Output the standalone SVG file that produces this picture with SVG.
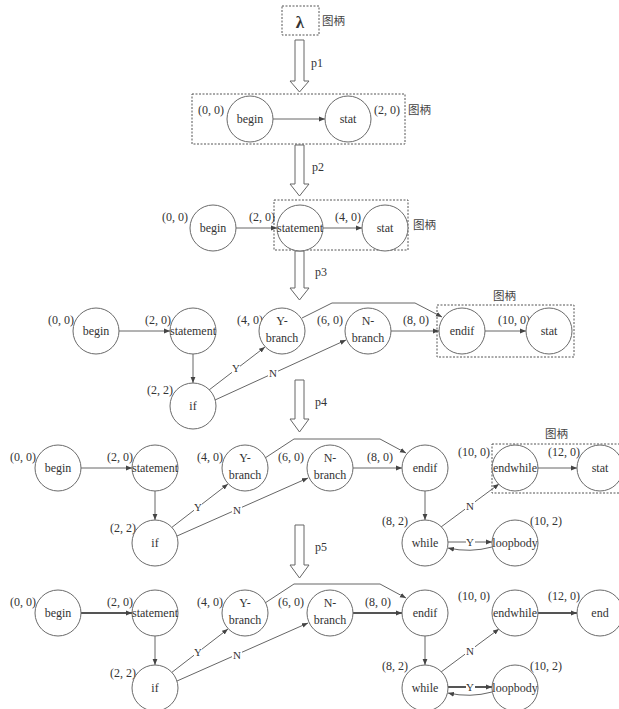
<svg xmlns="http://www.w3.org/2000/svg" width="619" height="709" viewBox="0 0 619 709">
<defs>
<style>
.n{fill:#fff;stroke:#6a6a6a;stroke-width:1}
.t{font-family:"Liberation Serif","Times New Roman",serif;font-size:12px;fill:#333;text-anchor:middle}
.c{font-family:"Liberation Serif","Times New Roman",serif;font-size:12px;fill:#333}
.h{font-family:"Noto Sans CJK SC","Noto Sans",sans-serif;font-size:11.5px;fill:#444}
.e{fill:none;stroke:#666;stroke-width:1;marker-end:url(#ah)}
.e2{fill:none;stroke:#555;stroke-width:1.8;marker-end:url(#ah)}
.b{fill:none;stroke:#555;stroke-width:1;stroke-dasharray:2 1.5}
.p{fill:#fff;stroke:#666;stroke-width:1}
.l{font-family:"Liberation Serif","Times New Roman",serif;font-size:11px;fill:#333;text-anchor:middle}
.lb{fill:#fff;stroke:none}
</style>
<marker id="ah" viewBox="0 0 10 10" refX="10" refY="5" markerWidth="6" markerHeight="6" markerUnits="userSpaceOnUse" orient="auto">
<path d="M0,1 L10,5 L0,9 Z" fill="#444"/>
</marker>
</defs>
<rect width="619" height="709" fill="#fff"/>

<!-- production arrows -->
<g id="prod">
<path class="p" d="M295,40 L304,40 L304,81 L309,81 L299.5,92 L290,81 L295,81 Z"/>
<text class="c" x="311" y="67">p1</text>
<path class="p" d="M295,145 L304,145 L304,184 L309,184 L299.5,196 L290,184 L295,184 Z"/>
<text class="c" x="312" y="171">p2</text>
<path class="p" d="M295,251 L304,251 L304,288 L309,288 L299.5,300 L290,288 L295,288 Z"/>
<text class="c" x="315" y="276">p3</text>
<path class="p" d="M295,380 L304,380 L304,419 L309,419 L299.5,432 L290,419 L295,419 Z"/>
<text class="c" x="315" y="406">p4</text>
<path class="p" d="M295,525 L304,525 L304,565 L309,565 L299.5,578 L290,565 L295,565 Z"/>
<text class="c" x="315" y="551">p5</text>
</g>

<!-- stage 1 -->
<g id="s1">
<rect class="b" x="282" y="6" width="37" height="29"/>
<text x="300" y="28" font-family="Liberation Serif,serif" font-size="17" font-weight="bold" fill="#333" text-anchor="middle">λ</text>
<text class="h" x="322" y="25">图柄</text>
</g>

<!-- stage 2 -->
<g id="s2">
<rect class="b" x="192" y="94" width="213" height="50"/>
<text class="h" x="408" y="114">图柄</text>
<text class="c" x="198" y="114">(0, 0)</text>
<text class="c" x="374" y="114">(2, 0)</text>
</g>
<g id="s2-connectors"><path class="e" d="M273,119 L325,119"/></g>
<g id="s2-begin"><circle class="n" cx="250" cy="119" r="23"/><text class="t" x="250" y="123">begin</text></g>
<g id="s2-stat"><circle class="n" cx="348" cy="119" r="23"/><text class="t" x="348" y="123">stat</text></g>

<!-- stage 3 -->
<g id="s3">
<rect class="b" x="274" y="200" width="134" height="50"/>
<text class="h" x="413" y="229">图柄</text>
<text class="c" x="162" y="221">(0, 0)</text>
<text class="c" x="249" y="221">(2, 0)</text>
<text class="c" x="335" y="221">(4, 0)</text>
</g>
<g id="s3-connectors">
<path class="e" d="M236,228 L277,228"/>
<path class="e" d="M323,228 L362,228"/>
</g>
<g id="s3-begin"><circle class="n" cx="213" cy="228" r="23"/><text class="t" x="213" y="232">begin</text></g>
<g id="s3-statement"><circle class="n" cx="300" cy="228" r="23"/><text class="t" x="300" y="232">statement</text></g>
<g id="s3-stat"><circle class="n" cx="385" cy="228" r="23"/><text class="t" x="385" y="232">stat</text></g>

<!-- stage 4 -->
<g id="s4">
<rect class="b" x="437" y="305" width="137" height="52"/>
<text class="h" x="493" y="300">图柄</text>
<text class="c" x="48" y="324">(0, 0)</text>
<text class="c" x="145" y="324">(2, 0)</text>
<text class="c" x="237" y="324">(4, 0)</text>
<text class="c" x="317" y="324">(6, 0)</text>
<text class="c" x="403" y="324">(8, 0)</text>
<text class="c" x="498" y="324">(10, 0)</text>
<text class="c" x="147" y="394">(2, 2)</text>
</g>
<g id="s4-connectors">
<path class="e" d="M119,331 L170,331"/>
<path class="e" d="M193,354 L193,383"/>
<path class="e" d="M209,390 L265,347"/>
<path class="e" d="M215,400 L346,340"/>
<path class="e" d="M302,318 L332,303 L415,303 L442,317"/>
<path class="e" d="M391,331 L439,331"/>
<path class="e" d="M485,331 L526,331"/>
<rect class="lb" x="232" y="362" width="8" height="11"/>
<text class="l" x="236" y="372">Y</text>
<rect class="lb" x="268" y="367" width="10" height="11"/>
<text class="l" x="273" y="377">N</text>
</g>
<g id="s4-begin"><circle class="n" cx="96" cy="331" r="23"/><text class="t" x="96" y="335">begin</text></g>
<g id="s4-statement"><circle class="n" cx="193" cy="331" r="23"/><text class="t" x="193" y="335">statement</text></g>
<g id="s4-ybranch"><circle class="n" cx="282" cy="331" r="23"/><text class="t" x="282" y="325">Y-</text><text class="t" x="282" y="342">branch</text></g>
<g id="s4-nbranch"><circle class="n" cx="368" cy="331" r="23"/><text class="t" x="368" y="325">N-</text><text class="t" x="368" y="342">branch</text></g>
<g id="s4-endif"><circle class="n" cx="462" cy="331" r="23"/><text class="t" x="462" y="335">endif</text></g>
<g id="s4-stat"><circle class="n" cx="549" cy="331" r="23"/><text class="t" x="549" y="335">stat</text></g>
<g id="s4-if"><circle class="n" cx="193" cy="406" r="23"/><text class="t" x="193" y="410">if</text></g>

<!-- stage 5 -->
<g id="s5">
<rect class="b" x="492" y="444" width="130" height="49"/>
<text class="h" x="545" y="438">图柄</text>
<text class="c" x="10" y="461">(0, 0)</text>
<text class="c" x="107" y="461">(2, 0)</text>
<text class="c" x="197" y="461">(4, 0)</text>
<text class="c" x="278" y="461">(6, 0)</text>
<text class="c" x="367" y="461">(8, 0)</text>
<text class="c" x="458" y="456">(10, 0)</text>
<text class="c" x="548" y="456">(12, 0)</text>
<text class="c" x="110" y="532">(2, 2)</text>
<text class="c" x="382" y="525">(8, 2)</text>
<text class="c" x="530" y="525">(10, 2)</text>
</g>
<g id="s5-connectors">
<path class="e" d="M81,468 L132,468"/>
<path class="e" d="M155,491 L155,520"/>
<path class="e" d="M171,528 L228,484"/>
<path class="e" d="M177,536 L308,478"/>
<path class="e" d="M265,458 L294,439 L380,439 L406,453"/>
<path class="e" d="M353,468 L402,468"/>
<path class="e" d="M425,491 L425,520"/>
<path class="e" d="M441,527 L499,484"/>
<path class="e" d="M538,468 L577,468"/>
<path class="e" d="M448,542 L492,542"/>
<path class="e" d="M492,547 Q470,553 448,548"/>
<rect class="lb" x="194" y="501" width="8" height="11"/>
<text class="l" x="198" y="511">Y</text>
<rect class="lb" x="232" y="504" width="10" height="11"/>
<text class="l" x="237" y="514">N</text>
<rect class="lb" x="465" y="500" width="10" height="11"/>
<text class="l" x="470" y="510">N</text>
<rect class="lb" x="466" y="537" width="9" height="10"/>
<text class="l" x="470" y="546">Y</text>
</g>
<g id="s5-begin"><circle class="n" cx="58" cy="468" r="23"/><text class="t" x="58" y="472">begin</text></g>
<g id="s5-statement"><circle class="n" cx="155" cy="468" r="23"/><text class="t" x="155" y="472">statement</text></g>
<g id="s5-ybranch"><circle class="n" cx="245" cy="468" r="23"/><text class="t" x="245" y="462">Y-</text><text class="t" x="245" y="479">branch</text></g>
<g id="s5-nbranch"><circle class="n" cx="330" cy="468" r="23"/><text class="t" x="330" y="462">N-</text><text class="t" x="330" y="479">branch</text></g>
<g id="s5-endif"><circle class="n" cx="425" cy="468" r="23"/><text class="t" x="425" y="472">endif</text></g>
<g id="s5-endwhile"><circle class="n" cx="515" cy="468" r="23"/><text class="t" x="515" y="472">endwhile</text></g>
<g id="s5-stat"><circle class="n" cx="600" cy="468" r="23"/><text class="t" x="600" y="472">stat</text></g>
<g id="s5-if"><circle class="n" cx="155" cy="543" r="23"/><text class="t" x="155" y="547">if</text></g>
<g id="s5-while"><circle class="n" cx="425" cy="543" r="23"/><text class="t" x="425" y="547">while</text></g>
<g id="s5-loopbody"><circle class="n" cx="515" cy="543" r="23"/><text class="t" x="515" y="547">loopbody</text></g>

<!-- stage 6 -->
<g id="s6">
<text class="c" x="10" y="606">(0, 0)</text>
<text class="c" x="107" y="606">(2, 0)</text>
<text class="c" x="197" y="606">(4, 0)</text>
<text class="c" x="278" y="606">(6, 0)</text>
<text class="c" x="365" y="606">(8, 0)</text>
<text class="c" x="458" y="600">(10, 0)</text>
<text class="c" x="548" y="600">(12, 0)</text>
<text class="c" x="110" y="677">(2, 2)</text>
<text class="c" x="382" y="670">(8, 2)</text>
<text class="c" x="530" y="670">(10, 2)</text>
</g>
<g id="s6-connectors">
<path class="e2" d="M81,613 L132,613"/>
<path class="e" d="M155,636 L155,665"/>
<path class="e" d="M171,673 L228,629"/>
<path class="e" d="M177,681 L308,623"/>
<path class="e" d="M265,603 L294,584 L380,584 L406,598"/>
<path class="e2" d="M353,613 L402,613"/>
<path class="e" d="M425,636 L425,665"/>
<path class="e" d="M441,672 L499,629"/>
<path class="e2" d="M538,613 L577,613"/>
<path class="e2" d="M448,687 L492,687"/>
<path class="e" d="M492,692 Q470,698 448,693"/>
<rect class="lb" x="194" y="646" width="8" height="11"/>
<text class="l" x="198" y="656">Y</text>
<rect class="lb" x="232" y="649" width="10" height="11"/>
<text class="l" x="237" y="659">N</text>
<rect class="lb" x="465" y="645" width="10" height="11"/>
<text class="l" x="470" y="655">N</text>
<rect class="lb" x="466" y="682" width="9" height="10"/>
<text class="l" x="470" y="691">Y</text>
</g>
<g id="s6-begin"><circle class="n" cx="58" cy="613" r="23"/><text class="t" x="58" y="617">begin</text></g>
<g id="s6-statement"><circle class="n" cx="155" cy="613" r="23"/><text class="t" x="155" y="617">statement</text></g>
<g id="s6-ybranch"><circle class="n" cx="245" cy="613" r="23"/><text class="t" x="245" y="607">Y-</text><text class="t" x="245" y="624">branch</text></g>
<g id="s6-nbranch"><circle class="n" cx="330" cy="613" r="23"/><text class="t" x="330" y="607">N-</text><text class="t" x="330" y="624">branch</text></g>
<g id="s6-endif"><circle class="n" cx="425" cy="613" r="23"/><text class="t" x="425" y="617">endif</text></g>
<g id="s6-endwhile"><circle class="n" cx="515" cy="613" r="23"/><text class="t" x="515" y="617">endwhile</text></g>
<g id="s6-end"><circle class="n" cx="600" cy="613" r="23"/><text class="t" x="600" y="617">end</text></g>
<g id="s6-if"><circle class="n" cx="155" cy="688" r="23"/><text class="t" x="155" y="692">if</text></g>
<g id="s6-while"><circle class="n" cx="425" cy="688" r="23"/><text class="t" x="425" y="692">while</text></g>
<g id="s6-loopbody"><circle class="n" cx="515" cy="688" r="23"/><text class="t" x="515" y="692">loopbody</text></g>
</svg>
